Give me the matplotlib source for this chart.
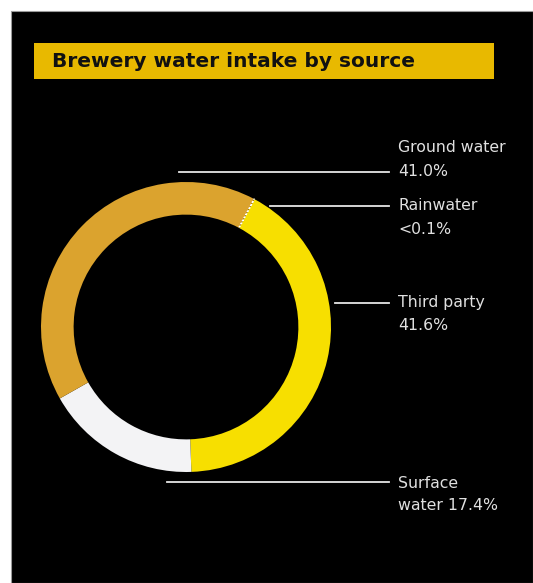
import matplotlib
matplotlib.use("Agg")
import matplotlib.pyplot as plt
from matplotlib.patches import Rectangle

# Data
sources = ["Rainwater", "Third party", "Surface water", "Ground water"]
shares = [0.05, 41.6, 17.4, 41.0]
share_labels = ["<0.1%", "41.6%", "17.4%", "41.0%"]
colors = ["#DBA32E", "#F7DF00", "#F3F3F5", "#DBA32E"]

W, H = 533, 583
fig = plt.figure(figsize=(W / 100, H / 100), dpi=100, facecolor="white")

# Overlay axes in pixel coordinates
bg = fig.add_axes([0, 0, 1, 1])
bg.set_xlim(0, W)
bg.set_ylim(H, 0)
bg.axis("off")
bg.add_patch(Rectangle((11, 11), W - 11, H - 11, facecolor="black",
                       edgecolor="#9a9a9a", linewidth=0.8))
bg.add_patch(Rectangle((34, 43), 460, 36, facecolor="#E8B900", edgecolor="none"))
bg.text(52, 67, "Brewery water intake by source", color="#111111",
        fontsize=14.5, fontweight="bold", va="baseline", ha="left")

# Donut
cx, cy, r = 186, 327, 145
pax = fig.add_axes([(cx - r) / W, (H - cy - r) / H, 2 * r / W, 2 * r / H])
wedges, _ = pax.pie(shares, colors=colors, startangle=62, counterclock=False,
                    radius=1.0, wedgeprops=dict(width=0.225, linewidth=0))
# rainwater shown as a thin dotted divider
wedges[0].set_edgecolor("#FFFFFF")
wedges[0].set_linewidth(1.0)
wedges[0].set_linestyle((0, (1, 1.5)))
wedges[0].set_zorder(5)
pax.set_xlim(-1, 1)
pax.set_ylim(-1, 1)
pax.set_aspect("equal")
pax.axis("off")

# Leader lines and labels: (line1, line2, line start x, line y, text centre y)
label_info = [
    ("Ground water", share_labels[3], 179, 172, 147),
    ("Rainwater", share_labels[0], 270, 206, 205),
    ("Third party", share_labels[1], 335, 303, 302),
    ("Surface", "water " + share_labels[2], 167, 482, 482),
]
for l1, l2, x0, ly, ty in label_info:
    bg.plot([x0, 389], [ly, ly], color="#E6E6E6", linewidth=1.3)
    bg.text(398, ty + 5.5, l1, color="#E0E0E0", fontsize=11.3,
            va="baseline", ha="left")
    bg.text(398, ty + 23 + 5.5, l2, color="#E0E0E0", fontsize=11.3,
            va="baseline", ha="left")

fig.savefig("out.png", dpi=100, facecolor="white")
